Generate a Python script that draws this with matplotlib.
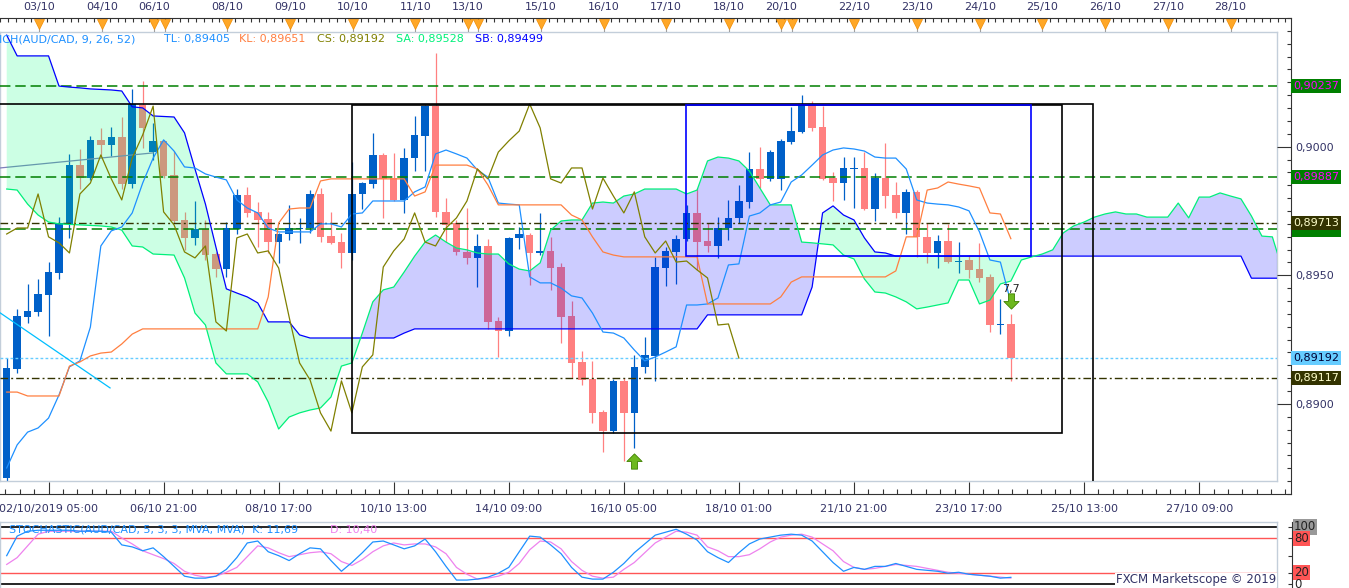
import numpy as np
import matplotlib
matplotlib.use("Agg")
import matplotlib.pyplot as plt
import matplotlib.transforms as mtransforms
from matplotlib.path import Path
from matplotlib.patches import Rectangle

plt.rcParams['font.family'] = ['DejaVu Sans']
plt.rcParams['lines.scale_dashes'] = False

# ---------------- data: AUD/CAD 4H candles (prices in 1e-5 units) ----------------
open_p = [88731, 89150, 89350, 89369, 89434, 89519, 89708, 89934, 89884, 90031,
          90011, 90042, 89861, 90165, 89984, 90027, 89896, 89723, 89654, 89688,
          89592, 89534, 89688, 89819, 89754, 89727, 89638, 89669, 89688, 89692,
          89823, 89661, 89638, 89596, 89823, 89861, 89973, 89884, 89800, 89961,
          90046, 90161, 89754, 89711, 89600, 89577, 89623, 89334, 89296, 89654,
          89665, 89596, 89604, 89542, 89354, 89177, 89111, 88984, 88911, 89104,
          88981, 89158, 89200, 89538, 89600, 89650, 89750, 89642, 89623, 89692,
          89731, 89792, 89919, 89881, 89881, 90023, 90061, 90169, 90081, 89884,
          89865, 89919, 89923, 89765, 89884, 89819, 89750, 89831, 89658, 89596,
          89642, 89561, 89569, 89534, 89504, 89319, 89323]
high_p = [89192, 89381, 89477, 89496, 89561, 89734, 89977, 89996, 90046, 90077,
          90081, 90119, 90227, 90258, 90096, 90031, 89988, 89754, 89796, 89723,
          89600, 89715, 89842, 89850, 89792, 89754, 89673, 89781, 89731, 89838,
          89846, 89754, 89673, 89946, 89869, 90058, 89981, 89981, 90000, 90123,
          90165, 90365, 89807, 89723, 89769, 89669, 89650, 89350, 89658, 89696,
          89673, 89750, 89658, 89558, 89411, 89219, 89181, 88992, 89111, 89115,
          89204, 89273, 89581, 89619, 89665, 89781, 89846, 89711, 89734, 89800,
          89858, 89984, 90004, 89992, 90034, 90158, 90204, 90181, 90161, 89908,
          89965, 89965, 89984, 89904, 90019, 89869, 89842, 89838, 89711, 89665,
          89708, 89638, 89588, 89635, 89515, 89419, 89361]
low_p = [88715, 89134, 89327, 89354, 89277, 89496, 89654, 89842, 89877, 89969,
         89969, 89842, 89846, 90000, 89954, 89884, 89711, 89608, 89627, 89569,
         89504, 89504, 89669, 89734, 89619, 89596, 89558, 89646, 89635, 89673,
         89638, 89631, 89538, 89569, 89765, 89846, 89731, 89796, 89750, 89911,
         89911, 89734, 89638, 89588, 89554, 89465, 89304, 89196, 89277, 89611,
         89473, 89588, 89454, 89250, 89115, 89088, 88942, 88831, 88904, 88796,
         88846, 89134, 89104, 89469, 89477, 89642, 89531, 89600, 89577, 89646,
         89711, 89769, 89846, 89873, 89838, 90015, 90058, 90065, 89877, 89796,
         89800, 89769, 89761, 89719, 89769, 89731, 89669, 89581, 89558, 89538,
         89558, 89519, 89500, 89484, 89292, 89284, 89104]
close_p = [89154, 89354, 89373, 89438, 89523, 89711, 89934, 89884, 90031, 90011,
           90042, 89861, 90169, 90077, 90027, 89892, 89719, 89654, 89688, 89588,
           89534, 89692, 89819, 89750, 89723, 89638, 89669, 89692, 89692, 89823,
           89658, 89635, 89596, 89823, 89865, 89973, 89881, 89800, 89961, 90050,
           90161, 89754, 89704, 89600, 89577, 89623, 89331, 89296, 89654, 89669,
           89596, 89604, 89538, 89350, 89173, 89108, 88981, 88911, 89104, 88981,
           89158, 89204, 89542, 89604, 89650, 89750, 89638, 89623, 89692, 89731,
           89796, 89919, 89881, 89984, 90027, 90065, 90169, 90077, 89881, 89865,
           89923, 89923, 89765, 89884, 89815, 89750, 89831, 89658, 89596, 89642,
           89561, 89565, 89531, 89500, 89319, 89323, 89192]

# Ichimoku lines
tenkan_p = [88769, 88858, 88907, 88923, 88961, 89050, 89158, 89181, 89311, 89623,
            89681, 89696, 89750, 89865, 89961, 90031, 89988, 89927, 89923, 89900,
            89888, 89877, 89800, 89769, 89750, 89692, 89677, 89677, 89677, 89677,
            89708, 89708, 89696, 89746, 89750, 89796, 89796, 89796, 89796, 89831,
            89850, 89977, 89992, 89977, 89961, 89915, 89888, 89788, 89784, 89781,
            89504, 89481, 89481, 89461, 89431, 89423, 89365, 89292, 89288, 89269,
            89223, 89181, 89196, 89215, 89235, 89396, 89396, 89400, 89423, 89550,
            89554, 89738, 89750, 89781, 89792, 89869, 89896, 89934, 89973, 89992,
            90000, 89996, 89988, 89965, 89961, 89961, 89919, 89800, 89788, 89784,
            89781, 89773, 89758, 89677, 89569, 89561, 89405]
kijun_p = [89061, 89061, 89046, 89046, 89046, 89046, 89161, 89177, 89200, 89211,
           89215, 89246, 89284] + [89304] * 12 + [89427, 89711, 89765, 89769, 89769,
           89873] + [89881] * 8 + [89815, 89831] + [89934] * 4 + [89919, 89858] + \
          [89781] * 7 + [89742, 89723, 89658, 89600, 89588] + [89581] * 8 + \
          [89400] * 7 + [89427, 89484] + [89504] * 9 + \
          [89527, 89658, 89658, 89838, 89846, 89869, 89861, 89854, 89846, 89750,
           89746, 89651]
senkou_a_p = [89842, 89838, 89784, 89742, 89715, 89708, 89706, 89704, 89702, 89700,
              89696, 89684, 89623, 89619, 89592, 89590, 89588, 89500, 89365, 89319,
              89173, 89131, 89131, 89131, 89100, 89023, 88919, 88965, 88981, 88992,
              89000, 89042, 89161, 89173, 89288, 89408, 89454, 89465, 89523, 89584,
              89638, 89665, 89638, 89615, 89608, 89596, 89592, 89592, 89554, 89534,
              89527, 89558, 89684, 89719, 89723, 89723, 89788, 89792, 89788, 89815,
              89823, 89842, 89842, 89842, 89842, 89823, 89838, 89950, 89965, 89961,
              89950, 89911, 89846, 89781, 89781, 89781, 89638, 89635, 89631, 89627,
              89588, 89573, 89496, 89446, 89442, 89427, 89408, 89381, 89388, 89396,
              89404, 89492, 89492, 89400, 89415, 89477, 89488, 89569, 89581, 89592,
              89608, 89673, 89700, 89715, 89734, 89746, 89754, 89746, 89746, 89734,
              89734, 89734, 89788, 89731, 89811, 89811, 89827, 89815, 89804, 89738,
              89661, 89658, 89528]
senkou_b_p = [90434, 90354, 90354, 90354, 90354, 90238, 90234, 90231, 90227, 90225,
              90223, 90219, 90158, 90154, 90123, 90121, 90119, 90058, 89919, 89784,
              89619, 89458, 89442, 89427, 89404, 89331, 89331, 89331, 89281] + \
             [89269] * 9 + [89288] + [89304] * 28 + [89358] * 10 + \
             [89465, 89750, 89777, 89742, 89723, 89654, 89600, 89596] + \
             [89584] * 34 + [89499] * 4

# Stochastic (5,3,3)
stoch_k = [49.7, 84.0, 92.6, 94.3, 94.3, 94.3, 94.3, 92.6, 92.6, 92.6,
           90.9, 68.6, 65.1, 58.3, 63.4, 48.0, 30.9, 13.7, 10.3, 10.3,
           13.7, 25.7, 46.3, 72.0, 75.4, 56.6, 49.7, 41.1, 53.1, 63.4,
           61.7, 41.1, 22.3, 37.7, 54.9, 73.7, 75.4, 68.6, 61.7, 66.9,
           78.9, 56.6, 30.9, 6.9, 6.9, 8.6, 12.0, 18.9, 29.1, 56.6,
           84.0, 82.3, 68.6, 53.1, 29.1, 12.0, 8.6, 8.6, 20.6, 36.0,
           54.9, 70.3, 85.7, 90.9, 96.0, 87.4, 77.1, 56.6, 46.3, 37.7,
           54.9, 70.3, 78.9, 82.3, 85.7, 87.4, 85.7, 75.4, 56.6, 37.7,
           22.3, 29.1, 25.7, 30.9, 30.9, 36.0, 30.9, 25.7, 24.0, 22.3,
           18.9, 20.6, 17.1, 15.4, 13.7, 10.3, 11.69]
stoch_d = [34.3, 46.3, 66.9, 87.4, 92.6, 92.6, 92.6, 92.6, 92.6, 92.6,
           92.6, 80.6, 70.3, 58.3, 51.4, 44.6, 36.0, 22.3, 15.4, 12.0,
           13.7, 20.6, 29.1, 48.0, 66.9, 63.4, 54.9, 48.0, 51.4, 54.9,
           56.6, 53.1, 39.4, 32.6, 42.9, 56.6, 66.9, 72.0, 68.6, 70.3,
           70.3, 65.1, 53.1, 29.1, 17.1, 8.6, 10.3, 13.7, 20.6, 36.0,
           60.0, 75.4, 73.7, 61.7, 39.4, 24.0, 13.7, 10.3, 12.0, 25.7,
           37.7, 54.9, 72.0, 82.3, 92.6, 90.9, 85.7, 65.1, 58.3, 48.0,
           48.0, 51.4, 61.7, 73.7, 82.3, 85.7, 87.4, 82.3, 70.3, 58.3,
           39.4, 29.1, 25.7, 27.4, 30.9, 34.3, 32.6, 30.9, 27.4, 24.0,
           20.6, 18.9, 17.1, 15.4, 13.7, 12.0, 10.40]

# axis labels
bottom_tick_idx = [4, 15, 26, 37, 48, 59, 70, 81, 92, 103, 114]
bottom_tick_labels = ["02/10/2019 05:00", "06/10 21:00", "08/10 17:00", "10/10 13:00",
                      "14/10 09:00", "16/10 05:00", "18/10 01:00", "21/10 21:00",
                      "23/10 17:00", "25/10 13:00", "27/10 09:00"]
day_mark_idx = [3, 9, 14, 15, 21, 27, 33, 39, 44, 45, 51, 57, 63, 69, 74, 75,
                81, 87, 93, 99, 105, 111, 117]
day_label_idx = [3, 9, 14, 21, 27, 33, 39, 44, 51, 57, 63, 69, 74, 81, 87, 93,
                 99, 105, 111, 117]
day_labels = ["03/10", "04/10", "06/10", "08/10", "09/10", "10/10", "11/10", "13/10",
              "15/10", "16/10", "17/10", "18/10", "20/10", "22/10", "23/10", "24/10",
              "25/10", "26/10", "27/10", "28/10"]
price_ticks = [0.8900, 0.8950, 0.9000]
price_tick_labels = ["0,8900", "0,8950", "0,9000"]

# drawings: horizontal levels, rectangles, trend lines, signals
level_prices = [0.90237, 0.89887, 0.89688, 0.89713, 0.89192, 0.89117]
level_labels = ["0,90237", "0,89887", None, "0,89713", "0,89192", "0,89117"]
rect_left = [-5.0, 33.0, 64.94]
rect_right = [103.85, 100.9, 97.93]
rect_low = [0.8700, 0.88904, 0.89584]
rect_high = [0.90169, 0.90165, 0.90167]
trend1_idx = [-0.64, 9.88]
trend1_price = [0.89366, 0.89077]
trend2_idx = [-0.64, 14.0]
trend2_price = [0.89923, 0.89981]
signal_up_idx, signal_up_price = [60], [0.88796]
signal_dn_idx, signal_dn_price = [96], [0.89411]
signal_text = "7,7"
signal_text_price = 0.89458

# ---------------- layout ----------------
W, H = 1349, 588
X0, DX = 6.7, 10.46          # pixel x of candle 0, pixels per candle
PY0, PPU = 0.90569, 26000.0  # price at pixel row 0, pixels per price unit


def idx_at(px):
    return (px - X0) / DX


def price_at(py):
    return PY0 - py / PPU


def rect_px(l, t, r, b):
    return [l / W, 1 - b / H, (r - l) / W, (b - t) / H]


O = np.array(open_p) / 1e5
Hh = np.array(high_p) / 1e5
L = np.array(low_p) / 1e5
C = np.array(close_p) / 1e5
TL = np.array(tenkan_p) / 1e5
KL = np.array(kijun_p) / 1e5
SA = np.array(senkou_a_p) / 1e5
SB = np.array(senkou_b_p) / 1e5
CS = C[26:]

fig = plt.figure(figsize=(W / 100, H / 100), dpi=100)
fig.patch.set_facecolor('white')

BORDER = '#C3CEDA'
AXC = '#333333'
TXT = '#333366'

# ---- main price panel ----
ax = fig.add_axes(rect_px(0, 32, 1277, 481))
ax.set_xlim(idx_at(0), idx_at(1277))
ax.set_ylim(price_at(481), price_at(32))
ax.set_xticks([]); ax.set_yticks([])
for s in ax.spines.values():
    s.set_color(BORDER); s.set_linewidth(1)

idx = np.arange(len(O))
bull = C >= O
cols = np.where(bull, '#0060C8', '#FF8080')
ax.vlines(idx, L, Hh, colors=cols, lw=0.9, zorder=2)
body = np.maximum(np.abs(C - O), 1.3 / PPU)
ax.bar(idx, body, bottom=np.minimum(O, C), width=0.72, color=cols, linewidth=0, zorder=3)

# slate trend line (under the cloud)
ax.plot(trend2_idx, trend2_price, color='#7F80BB', lw=0.9, zorder=3.5)

ci = np.arange(len(SA))
ax.fill_between(ci, SA, SB, where=SB >= SA, interpolate=True, color='#00FF78',
                alpha=0.2, lw=0, zorder=4)
ax.fill_between(ci, SA, SB, where=SA > SB, interpolate=True, color='#0000FF',
                alpha=0.2, lw=0, zorder=4)

# levels
lev_styles = [('#007F00', (0, (7.5, 3.5)), 1.1),
              ('#007F00', (0, (7.5, 3.5)), 1.1),
              ('#007F00', (0, (7.5, 3.5)), 1.1),
              ('#333300', (0, (5.5, 2.2, 1.4, 2.2)), 1.0),
              ('#66CCFF', (0, (2.0, 1.6)), 1.0),
              ('#333300', (0, (5.5, 2.2, 1.4, 2.2)), 1.0)]
for p, (c, ls, lw) in zip(level_prices, lev_styles):
    ax.axhline(p, color=c, ls=ls, lw=lw, zorder=5)

ax.plot(ci, SB, color='#0000FF', lw=0.9, zorder=6)
ax.plot(ci, SA, color='#00F07A', lw=0.9, zorder=6)
ax.plot(idx, TL, color='#1E90FF', lw=0.9, zorder=6)
ax.plot(idx, KL, color='#FF7F40', lw=0.9, zorder=6)
ax.plot(np.arange(len(CS)), CS, color='#808000', lw=0.9, zorder=6)
ax.plot(trend1_idx, trend1_price, color='#00BFFF', lw=0.9, zorder=6)

rect_cols = ['black', 'black', '#0000FF']
for l0, r0, lo, hi, c in zip(rect_left, rect_right, rect_low, rect_high, rect_cols):
    ax.add_patch(Rectangle((l0, lo), r0 - l0, hi - lo, fill=False, ec=c, lw=1.2, zorder=7))

arrow = Path([(0, 0.5), (0.5, 0), (0.2, 0), (0.2, -0.5), (-0.2, -0.5), (-0.2, 0),
              (-0.5, 0), (0, 0.5)], closed=True)
arrow_dn = Path(arrow.vertices * np.array([1, -1]), closed=True)
ax.plot(signal_up_idx, signal_up_price, ls='none', marker=arrow, ms=11,
        mfc='#6DB81E', mec='#3F8000', mew=0.6, zorder=8)
ax.plot(signal_dn_idx, signal_dn_price, ls='none', marker=arrow_dn, ms=11,
        mfc='#6DB81E', mec='#3F8000', mew=0.6, zorder=8)
ax.text(signal_dn_idx[0], signal_text_price, signal_text, ha='center', va='center',
        fontsize=8, color='#222222', zorder=8)

# legend of the indicator
leg_items = [("ICH(AUD/CAD, 9, 26, 52)", '#1E90FF', -1),
             ("TL: %s" % f"{TL[-1]:.5f}".replace('.', ','), '#1E90FF', 164),
             ("KL: %s" % f"{KL[-1]:.5f}".replace('.', ','), '#FF7F40', 239),
             ("CS: %s" % f"{C[-1]:.5f}".replace('.', ','), '#808000', 317),
             ("SA: %s" % f"{SA[-1]:.5f}".replace('.', ','), '#00F07A', 396),
             ("SB: %s" % f"{SB[-1]:.5f}".replace('.', ','), '#0000FF', 475)]
for s, c, xp in leg_items:
    fig.text(xp / W, 1 - 39 / H, s, color=c, fontsize=8, ha='left', va='center')

# ---- top date ruler ----
axt = fig.add_axes(rect_px(0, 18, 1291, 32))
axt.set_xlim(idx_at(0), idx_at(1291))
axt.set_ylim(0, 1)
axt.patch.set_visible(False)
for k in ['left', 'right', 'bottom']:
    axt.spines[k].set_visible(False)
axt.spines['top'].set_color(AXC)
axt.set_yticks([])
axt.xaxis.tick_top()
axt.set_xticks(day_label_idx)
axt.set_xticklabels(day_labels)
axt.set_xticks(np.arange(-0.75, 123, 0.75), minor=True)
axt.tick_params(axis='x', which='major', direction='in', length=0, pad=4,
                labelsize=8, labelcolor=TXT)
axt.tick_params(axis='x', which='minor', direction='in', length=3, width=0.8, color=AXC)
axt.vlines(day_mark_idx, 0, 0.35, color='#A0A0A0', lw=0.8)
axt.plot(day_mark_idx, [0.6] * len(day_mark_idx), ls='none', marker='v', ms=7,
         mfc='#FFA726', mec='#F08C00', mew=0.5, clip_on=False)

# ---- bottom date ruler ----
axb = fig.add_axes(rect_px(0, 482, 1291, 494))
axb.set_xlim(idx_at(0), idx_at(1291))
axb.set_ylim(0, 1)
axb.patch.set_visible(False)
for k in ['left', 'right', 'top']:
    axb.spines[k].set_visible(False)
axb.spines['bottom'].set_color(AXC)
axb.set_yticks([])
axb.set_xticks(bottom_tick_idx)
axb.set_xticklabels(bottom_tick_labels)
axb.set_xticks(np.arange(4 - 1.375 * 3, 123, 1.375), minor=True)
axb.tick_params(axis='x', which='major', direction='in', length=8.6, width=0.8,
                color=AXC, pad=7, labelsize=8, labelcolor=TXT)
axb.tick_params(axis='x', which='minor', direction='in', length=3.4, width=0.8, color=AXC)

# ---- price axis ----
axp = fig.add_axes(rect_px(1277, 18, 1291, 494))
axp.set_ylim(price_at(494), price_at(18))
axp.patch.set_visible(False)
for k in ['left', 'top', 'bottom']:
    axp.spines[k].set_visible(False)
axp.spines['right'].set_color(AXC)
axp.set_xticks([])
axp.yaxis.tick_right()
axp.set_yticks(price_ticks)
axp.set_yticklabels(price_tick_labels)
axp.set_yticks(np.arange(0.8865, 0.9051, 0.0005), minor=True)
axp.tick_params(axis='y', which='major', direction='in', length=10, width=0.8,
                color=AXC, pad=3, labelsize=8, labelcolor=TXT)
axp.tick_params(axis='y', which='minor', direction='in', length=3.2, width=0.8, color=AXC)

trans_p = mtransforms.blended_transform_factory(fig.transFigure, ax.transData)
box_styles = [('#007F00', '#FF00FF'), ('#007F00', '#FF00FF'), ('#007F00', '#FF00FF'),
              ('#333300', '#FFFFCC'), ('#66CCFF', '#000033'), ('#333300', '#FFFFCC')]
for p, s, (bg, fg) in zip(level_prices, level_labels, box_styles):
    if s is None:
        # label box hidden behind the neighbouring one: only its edge shows
        fig.patches.append(Rectangle((1292 / W, p - 8 / PPU), 49 / W, 16 / PPU,
                                     transform=trans_p, fc=bg, ec='none', zorder=1))
        continue
    fig.text(1293 / W, p, s, transform=trans_p, fontsize=8, color=fg, ha='left',
             va='center', bbox=dict(boxstyle='square,pad=0.18', fc=bg, ec='none'))

# ---- stochastic panel ----
def sv(py):
    return (584 - py) / 0.57


axs = fig.add_axes(rect_px(0, 522, 1277, 588))
axs.set_xlim(idx_at(0), idx_at(1277))
axs.set_ylim(sv(588), sv(522))
axs.set_xticks([]); axs.set_yticks([])
for s in axs.spines.values():
    s.set_color(BORDER); s.set_linewidth(1)
axs.spines['bottom'].set_visible(False)
axs.axhline(100, color='black', lw=1.2)
axs.axhline(0, color='black', lw=1.2)
axs.axhline(80, color='#FF5555', lw=1.0)
axs.axhline(20, color='#FF5555', lw=1.0)
axs.plot(idx, stoch_d, color='#EE82EE', lw=0.9)
axs.plot(idx, stoch_k, color='#1E90FF', lw=0.9)

axsp = fig.add_axes(rect_px(1277, 522, 1292, 588))
axsp.set_ylim(sv(588), sv(522))
axsp.patch.set_visible(False)
for k in ['left', 'top', 'bottom']:
    axsp.spines[k].set_visible(False)
axsp.spines['right'].set_color(AXC)
axsp.set_xticks([])
axsp.yaxis.tick_right()
axsp.set_yticks([0, 20, 50, 80, 100])
axsp.set_yticklabels([])
axsp.tick_params(axis='y', direction='in', length=3.2, width=0.8, color=AXC)

trans_s = mtransforms.blended_transform_factory(fig.transFigure, axs.transData)
for v, s, bg in [(100, "100", '#999999'), (80, "80", '#FF5555'),
                 (20, "20", '#FF5555'), (0, "0", None)]:
    kw = dict(bbox=dict(boxstyle='square,pad=0.1', fc=bg, ec='none')) if bg else {}
    fig.text(1294 / W, v, s, transform=trans_s, fontsize=8.5, color='#222222',
             ha='left', va='center', **kw)

fig.text(9 / W, 1 - 530 / H,
         "STOCHASTIC(AUD/CAD, 5, 3, 3, MVA, MVA)  K: %s" % f"{stoch_k[-1]:.2f}".replace('.', ','),
         color='#1E90FF', fontsize=8, ha='left', va='center')
fig.text(330 / W, 1 - 530 / H, "D: %s" % f"{stoch_d[-1]:.2f}".replace('.', ','),
         color='#EE82EE', fontsize=8, ha='left', va='center')
fig.text(1276 / W, 1 - 580 / H, "FXCM Marketscope © 2019", color=TXT, fontsize=8.5,
         ha='right', va='center', bbox=dict(boxstyle='square,pad=0.05', fc='white', ec='none'))

fig.savefig("out.png", dpi=100)
